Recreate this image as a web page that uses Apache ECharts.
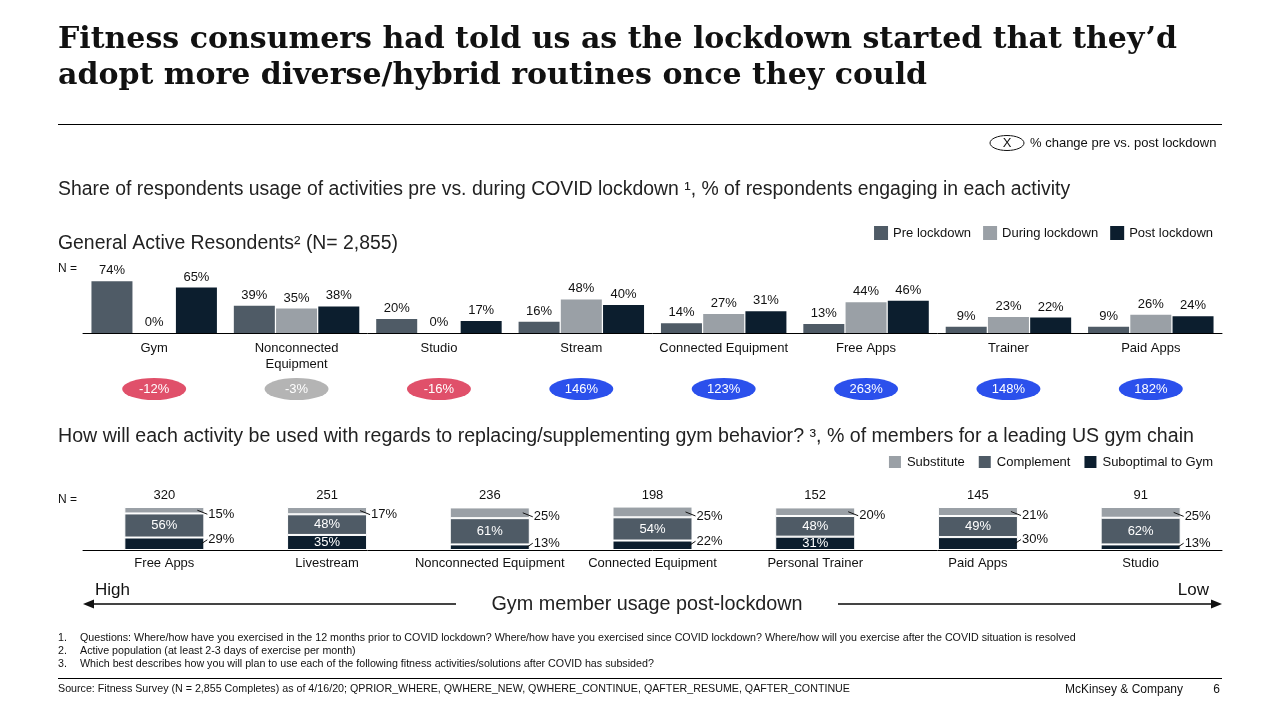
<!DOCTYPE html>
<html>
<head>
<meta charset="utf-8">
<title>Fitness routines</title>
<script src="https://cdn.jsdelivr.net/npm/echarts@6/dist/echarts.min.js"></script>
<style>
  html, body { margin: 0; padding: 0; background: #fff; }
  #main { width: 1280px; height: 720px; }
</style>
</head>
<body>
<div id="main"></div>
<script>
// top chart - share of respondents engaging in each activity
const activities = ['Gym', 'Nonconnected\nEquipment', 'Studio', 'Stream', 'Connected Equipment', 'Free Apps', 'Trainer', 'Paid Apps'];
const preLockdown = [74, 39, 20, 16, 14, 13, 9, 9];
const duringLockdown = [0, 35, 0, 48, 27, 44, 23, 26];
const postLockdown = [65, 38, 17, 40, 31, 46, 22, 24];
const changePrePost = [-12, -3, -16, 146, 123, 263, 148, 182];

// bottom chart - how activities replace / supplement the gym
const gymActivities = ['Free Apps', 'Livestream', 'Nonconnected Equipment', 'Connected Equipment', 'Personal Trainer', 'Paid Apps', 'Studio'];
const gymN = [320, 251, 236, 198, 152, 145, 91];
const substitute = [15, 17, 25, 25, 20, 21, 25];
const complement = [56, 48, 61, 54, 48, 49, 62];
const suboptimal = [29, 35, 13, 22, 31, 30, 13];

const C_PRE = '#4f5b66';
const C_DUR = '#9aa0a6';
const C_POST = '#0c1e2e';
const SANS = '"Liberation Sans", Arial, sans-serif';
const INK = '#111';

function changeColor(v) {
  if (v > 5) return '#2b50ec';
  if (v < -5) return '#e0506a';
  return '#b4b4b4';
}

function txt(x, y, text, size, opts) {
  opts = opts || {};
  return {
    type: 'text', x: x, y: y, silent: true,
    style: {
      text: text,
      font: (opts.weight || 'normal') + ' ' + size + 'px ' + (opts.family || SANS),
      fill: opts.color || INK,
      textAlign: opts.align || 'left',
      textVerticalAlign: 'middle'
    }
  };
}
function hline(x1, x2, y, color, w) {
  return { type: 'line', silent: true, shape: { x1: x1, y1: y, x2: x2, y2: y }, style: { stroke: color, lineWidth: w } };
}

const chart = echarts.init(document.getElementById('main'));

const barLabel = { show: true, position: 'top', distance: 4, formatter: '{c}%', fontSize: 13, color: INK, fontFamily: SANS };

const option = {
  animation: false,
  textStyle: { fontFamily: SANS },
  legend: [
    {
      data: ['Pre lockdown', 'During lockdown', 'Post lockdown'],
      right: 67, top: 226, padding: 0, itemWidth: 14, itemHeight: 14, itemGap: 12,
      icon: 'rect', selectedMode: false,
      textStyle: { fontSize: 13, color: INK }
    },
    {
      data: ['Substitute', 'Complement', 'Suboptimal to Gym'],
      right: 67, top: 454, padding: 0, itemWidth: 14, itemHeight: 14, itemGap: 12,
      icon: 'rect', selectedMode: false,
      textStyle: { fontSize: 13, color: INK }
    }
  ],
  grid: [
    { left: 83, right: 58, top: 263, height: 70 },
    { left: 83, right: 58, top: 378, height: 22 },
    { left: 83, right: 58, top: 507, height: 43 }
  ],
  xAxis: [
    {
      type: 'category', gridIndex: 0, data: activities,
      axisLine: { lineStyle: { color: '#000', width: 1 } },
      axisTick: { show: false },
      axisLabel: { interval: 0, fontSize: 13, color: INK, margin: 7, lineHeight: 16 }
    },
    { type: 'category', gridIndex: 1, data: activities, show: false },
    {
      type: 'category', gridIndex: 2, data: gymActivities,
      axisLine: { lineStyle: { color: '#000', width: 1 } },
      axisTick: { show: false },
      axisLabel: { interval: 0, fontSize: 13, color: INK, margin: 7 }
    }
  ],
  yAxis: [
    { type: 'value', gridIndex: 0, min: 0, max: 100, show: false },
    { type: 'value', gridIndex: 1, min: -1, max: 1, show: false },
    { type: 'value', gridIndex: 2, min: 0, max: 100, show: false }
  ],
  series: [
    {
      name: 'Pre lockdown', type: 'bar', xAxisIndex: 0, yAxisIndex: 0,
      data: preLockdown, barWidth: 41, barGap: '3%',
      itemStyle: { color: C_PRE }, label: barLabel
    },
    {
      name: 'During lockdown', type: 'bar', xAxisIndex: 0, yAxisIndex: 0,
      data: duringLockdown, barWidth: 41, barGap: '3%',
      itemStyle: { color: C_DUR }, label: barLabel
    },
    {
      name: 'Post lockdown', type: 'bar', xAxisIndex: 0, yAxisIndex: 0,
      data: postLockdown, barWidth: 41, barGap: '3%',
      itemStyle: { color: C_POST }, label: barLabel
    },
    {
      name: 'change', type: 'scatter', xAxisIndex: 1, yAxisIndex: 1,
      symbol: 'path://M0,50A50,50,0,1,1,100,50A50,50,0,1,1,0,50Z',
      symbolSize: [64, 22], silent: true,
      data: changePrePost.map(v => ({ value: 0, change: v, itemStyle: { color: changeColor(v), opacity: 1 } })),
      label: {
        show: true, position: 'inside', color: '#fff', fontSize: 13,
        formatter: p => p.data.change + '%'
      }
    },
    {
      name: 'Suboptimal to Gym', type: 'bar', stack: 'gym', xAxisIndex: 2, yAxisIndex: 2,
      barWidth: 80, itemStyle: { color: C_POST, borderColor: '#fff', borderWidth: 1 },
      data: suboptimal.map(v => ({
        value: v,
        label: v > 30
          ? { show: true, position: 'inside', color: '#fff', fontSize: 13, formatter: '{c}%' }
          : { show: true, position: 'right', distance: 4, offset: [0, -4], color: INK, fontSize: 13, formatter: '{c}%' }
      }))
    },
    {
      name: 'Complement', type: 'bar', stack: 'gym', xAxisIndex: 2, yAxisIndex: 2,
      barWidth: 80, itemStyle: { color: C_PRE, borderColor: '#fff', borderWidth: 1 },
      data: complement,
      label: { show: true, position: 'inside', color: '#fff', fontSize: 13, formatter: '{c}%' }
    },
    {
      name: 'Substitute', type: 'bar', stack: 'gym', xAxisIndex: 2, yAxisIndex: 2,
      barWidth: 80, itemStyle: { color: C_DUR, borderColor: '#fff', borderWidth: 1 },
      data: substitute,
      label: { show: true, position: 'right', distance: 4, offset: [0, 4], color: INK, fontSize: 13, formatter: '{c}%' }
    },
    {
      // N counts above the stacked bars
      name: 'N', type: 'scatter', xAxisIndex: 2, yAxisIndex: 2,
      symbolSize: 0, silent: true, itemStyle: { opacity: 1 },
      data: gymN.map(n => ({ value: 100, n: n })),
      label: { show: true, position: 'top', distance: 5, color: INK, fontSize: 13, formatter: p => p.data.n }
    },
    {
      // little leader lines for the labels outside the stacked bars
      name: 'leaders', type: 'custom', xAxisIndex: 2, yAxisIndex: 2, silent: true, z: 5,
      data: gymActivities.map((_, i) => [i, 100]),
      encode: { x: 0, y: 1 },
      renderItem: function (params, api) {
        const i = params.dataIndex;
        const lines = [];
        const subMid = api.coord([i, suboptimal[i] + complement[i] + substitute[i] / 2]);
        lines.push({
          type: 'line',
          shape: { x1: subMid[0] + 33, y1: subMid[1], x2: subMid[0] + 43, y2: subMid[1] + 4 },
          style: { stroke: INK, lineWidth: 1 }
        });
        if (suboptimal[i] <= 30) {
          const lowMid = api.coord([i, suboptimal[i] / 2]);
          lines.push({
            type: 'line',
            shape: { x1: lowMid[0] + 37, y1: lowMid[1], x2: lowMid[0] + 43, y2: lowMid[1] - 4 },
            style: { stroke: INK, lineWidth: 1 }
          });
        }
        return { type: 'group', children: lines };
      }
    }
  ],
  graphic: [
    txt(58, 40, 'Fitness consumers had told us as the lockdown started that they\u2019d', 30, { weight: 'bold', family: '"DejaVu Serif", serif' }),
    txt(58, 76, 'adopt more diverse/hybrid routines once they could', 30, { weight: 'bold', family: '"DejaVu Serif", serif' }),
    hline(58, 1222, 124.5, '#000', 1),
    { type: 'ellipse', silent: true, shape: { cx: 1007, cy: 143, rx: 17, ry: 7.5 }, style: { fill: 'none', stroke: INK, lineWidth: 1 } },
    txt(1007, 143, 'X', 13, { align: 'center' }),
    txt(1030, 143, '% change pre vs. post lockdown', 13),
    txt(58, 190, 'Share of respondents usage of activities pre vs. during COVID lockdown \u00b9, % of respondents engaging in each activity', 19.4, { color: '#222' }),
    txt(58, 244, 'General Active Resondents\u00b2 (N= 2,855)', 19.4, { color: '#222' }),
    txt(58, 269, 'N =', 12),
    txt(58, 437, 'How will each activity be used with regards to replacing/supplementing gym behavior? \u00b3, % of members for a leading US gym chain', 19.6, { color: '#222' }),
    txt(58, 500, 'N =', 12),
    txt(95, 590, 'High', 17),
    txt(1209, 590, 'Low', 17, { align: 'right' }),
    hline(90, 456, 604, '#444', 2),
    hline(838, 1214, 604, '#444', 2),
    { type: 'polygon', silent: true, shape: { points: [[83, 604], [94, 599.5], [94, 608.5]] }, style: { fill: '#111' } },
    { type: 'polygon', silent: true, shape: { points: [[1222, 604], [1211, 599.5], [1211, 608.5]] }, style: { fill: '#111' } },
    txt(647, 605, 'Gym member usage post-lockdown', 19.8, { align: 'center', color: '#222' }),
    txt(58, 638, '1.', 10.7),
    txt(80, 638, 'Questions: Where/how have you exercised in the 12 months prior to COVID lockdown? Where/how have you exercised since COVID lockdown? Where/how will you exercise after the COVID situation is resolved', 10.7),
    txt(58, 651, '2.', 10.7),
    txt(80, 651, 'Active population (at least 2-3 days of exercise per month)', 10.7),
    txt(58, 664, '3.', 10.7),
    txt(80, 664, 'Which best describes how you will plan to use each of the following fitness activities/solutions after COVID has subsided?', 10.7),
    hline(58, 1222, 678.5, '#000', 1),
    txt(58, 689, 'Source: Fitness Survey (N = 2,855 Completes) as of 4/16/20; QPRIOR_WHERE, QWHERE_NEW, QWHERE_CONTINUE, QAFTER_RESUME, QAFTER_CONTINUE', 10.7),
    txt(1065, 690, 'McKinsey & Company', 12),
    txt(1220, 690, '6', 12, { align: 'right' })
  ]
};

chart.setOption(option);
</script>
</body>
</html>
